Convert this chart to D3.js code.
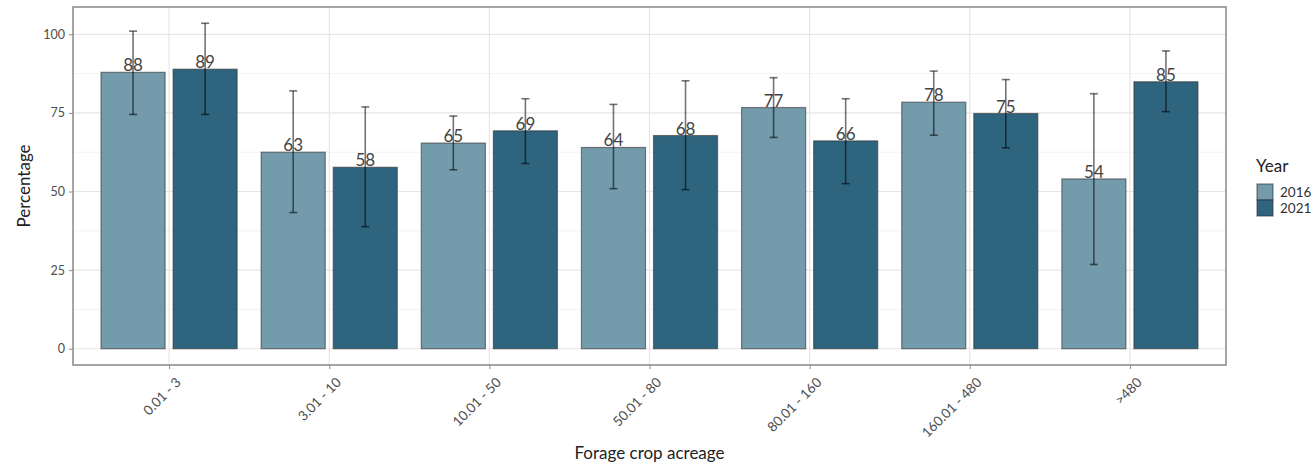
<!DOCTYPE html>
<html>
<head>
<meta charset="utf-8">
<script src="https://cdn.jsdelivr.net/npm/d3@7"></script>
<style>
  html, body { margin: 0; padding: 0; background: #fff; }
  svg text { font-family: Lato, "Open Sans", sans-serif; }
</style>
</head>
<body>
<svg id="chart" width="1312" height="469"></svg>
<script>
const categories = ["0.01 - 3", "3.01 - 10", "10.01 - 50", "50.01 - 80", "80.01 - 160", "160.01 - 480", ">480"];
const years = ["2016", "2021"];
const values2016 = [87.9, 62.5, 65.4, 64.0, 76.7, 78.4, 54.0];
const values2021 = [88.9, 57.7, 69.3, 67.8, 66.1, 74.8, 84.9];
const lower2016 = [74.5, 43.3, 56.9, 50.9, 67.2, 67.9, 26.8];
const upper2016 = [101.0, 82.0, 74.0, 77.7, 86.2, 88.3, 81.1];
const lower2021 = [74.5, 38.8, 58.9, 50.6, 52.5, 63.9, 75.4];
const upper2021 = [103.5, 76.9, 79.5, 85.2, 79.5, 85.6, 94.7];
const yTicks = [0, 25, 50, 75, 100];
const colors = ["#739bab", "#2e647e"];

const svg = d3.select("#chart");
const panel = {left: 73, right: 1226, top: 7, bottom: 365};

// y scale with ggplot-like 5% expansion
const dataMin = 0, dataMax = d3.max(upper2016.concat(upper2021));
const pad = (dataMax - dataMin) * 0.05;
const y = d3.scaleLinear().domain([dataMin - pad, dataMax + pad]).range([panel.bottom, panel.top]);

// discrete x with 0.6 additive expansion
const unit = (panel.right - panel.left) / (categories.length - 1 + 1.2);
const xc = d3.scalePoint().domain(categories).range([panel.left + 0.6 * unit, panel.right - 0.6 * unit]);
const dodge = 0.9 * unit, barW = 0.4 * unit;
const offset = d3.scaleBand().domain(years).range([-dodge / 2, dodge / 2]);

const rows = [];
categories.forEach((c, i) => {
  rows.push({cat: c, year: "2016", v: values2016[i], lo: lower2016[i], hi: upper2016[i]});
  rows.push({cat: c, year: "2021", v: values2021[i], lo: lower2021[i], hi: upper2021[i]});
});
const cx = d => xc(d.cat) + offset(d.year) + offset.bandwidth() / 2;

// panel background
svg.append("rect").attr("x", panel.left).attr("y", panel.top)
  .attr("width", panel.right - panel.left).attr("height", panel.bottom - panel.top).attr("fill", "#fff");

const grid = svg.append("g");
// minor y grid
const minor = yTicks.slice(0, -1).map((t, i) => (t + yTicks[i + 1]) / 2);
minor.forEach(m => {
  grid.append("line").attr("x1", panel.left).attr("x2", panel.right)
    .attr("y1", y(m)).attr("y2", y(m)).attr("stroke", "#f2f2f2").attr("stroke-width", 1);
});
yTicks.forEach(t => {
  grid.append("line").attr("x1", panel.left).attr("x2", panel.right)
    .attr("y1", y(t)).attr("y2", y(t)).attr("stroke", "#e6e6e6").attr("stroke-width", 1.2);
});
categories.forEach(c => {
  grid.append("line").attr("x1", xc(c)).attr("x2", xc(c))
    .attr("y1", panel.top).attr("y2", panel.bottom).attr("stroke", "#e6e6e6").attr("stroke-width", 1.2);
});

// bars
svg.append("g").selectAll("rect").data(rows).join("rect")
  .attr("x", d => cx(d) - barW / 2)
  .attr("width", barW)
  .attr("y", d => y(d.v))
  .attr("height", d => y(0) - y(d.v))
  .attr("fill", d => colors[years.indexOf(d.year)])
  .attr("stroke", "#333")
  .attr("stroke-opacity", 0.6)
  .attr("stroke-width", 1.2);

// labels
svg.append("g").selectAll("text").data(rows).join("text")
  .attr("x", d => cx(d))
  .attr("y", d => y(d.v) - 1)
  .attr("text-anchor", "middle")
  .attr("font-size", 17)
  .attr("fill", "#444")
  .text(d => Math.round(d.v));

// error bars
const eb = svg.append("g").attr("stroke", "#000").attr("stroke-opacity", 0.55).attr("stroke-width", 1.6);
rows.forEach(d => {
  const x0 = cx(d);
  eb.append("line").attr("x1", x0).attr("x2", x0).attr("y1", y(d.hi)).attr("y2", y(d.lo));
  eb.append("line").attr("x1", x0 - 4).attr("x2", x0 + 4).attr("y1", y(d.hi)).attr("y2", y(d.hi));
  eb.append("line").attr("x1", x0 - 4).attr("x2", x0 + 4).attr("y1", y(d.lo)).attr("y2", y(d.lo));
});

// panel border
svg.append("rect").attr("x", panel.left).attr("y", panel.top)
  .attr("width", panel.right - panel.left).attr("height", panel.bottom - panel.top)
  .attr("fill", "none").attr("stroke", "#888").attr("stroke-width", 1.5);

// y axis
const yAxis = svg.append("g").attr("transform", `translate(${panel.left},0)`)
  .call(d3.axisLeft(y).tickValues(yTicks).tickSize(4).tickPadding(4));
yAxis.select(".domain").remove();
yAxis.selectAll(".tick line").attr("stroke", "#888");
yAxis.selectAll(".tick text").attr("font-size", 12.5).attr("fill", "#4d4d4d")
  .style("font-family", "Lato, 'Open Sans', sans-serif");

// x axis
const xAxis = svg.append("g").attr("transform", `translate(0,${panel.bottom})`)
  .call(d3.axisBottom(xc).tickSize(4).tickPadding(3));
xAxis.select(".domain").remove();
xAxis.selectAll(".tick line").attr("stroke", "#888");
xAxis.selectAll(".tick text").attr("font-size", 13.5).attr("fill", "#4d4d4d")
  .style("font-family", "Lato, 'Open Sans', sans-serif")
  .attr("text-anchor", "end")
  .attr("dy", "0.35em")
  .attr("transform", "translate(4,10) rotate(-45)");

// axis titles
svg.append("text").attr("transform", `translate(30,${(panel.top + panel.bottom) / 2}) rotate(-90)`)
  .attr("text-anchor", "middle").attr("font-size", 17).attr("fill", "#222").text("Percentage");
svg.append("text").attr("x", (panel.left + panel.right) / 2).attr("y", 459)
  .attr("text-anchor", "middle").attr("font-size", 17).attr("fill", "#222").text("Forage crop acreage");

// legend
const lg = svg.append("g");
lg.append("text").attr("x", 1256).attr("y", 172).attr("font-size", 17).attr("fill", "#222").text("Year");
years.forEach((yr, i) => {
  lg.append("rect").attr("x", 1257).attr("y", 184 + i * 16).attr("width", 16).attr("height", 16)
    .attr("fill", colors[i]).attr("stroke", "#333").attr("stroke-opacity", 0.6).attr("stroke-width", 1.2);
  lg.append("text").attr("x", 1280).attr("y", 192 + i * 16).attr("dy", "0.35em")
    .attr("font-size", 13.5).attr("fill", "#333").text(yr);
});
</script>
</body>
</html>
